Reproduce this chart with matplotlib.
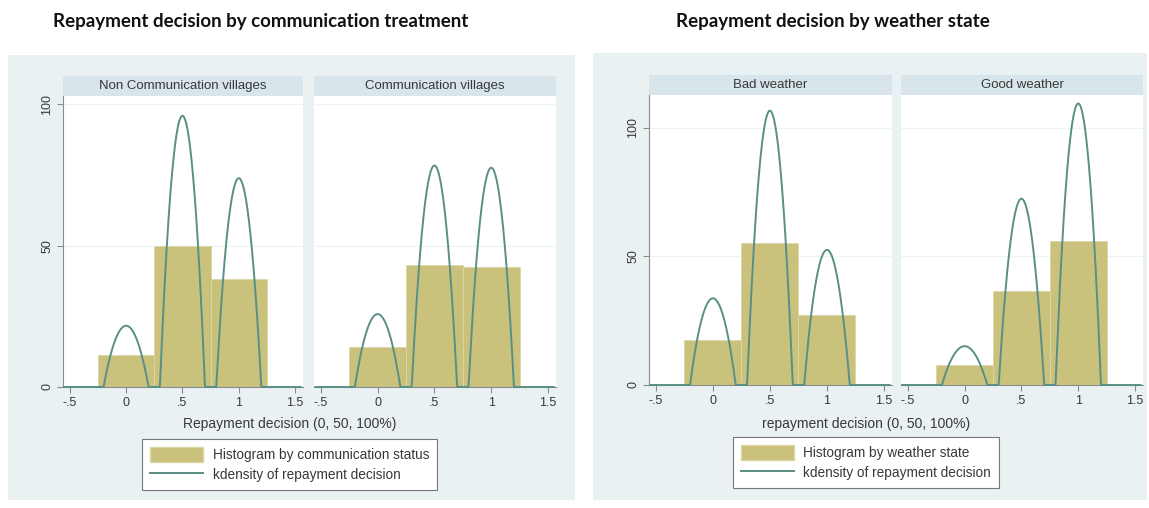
import numpy as np
import matplotlib.pyplot as plt
from matplotlib.patches import Rectangle, Patch
from matplotlib.lines import Line2D

# figure size in pixels
W, H = 1149, 508

# histogram bins (repayment share 0, 50, 100%)
bin_centers = [0.0, 0.5, 1.0]
bin_width = 0.5
kernel_halfwidth = 0.2   # Epanechnikov bandwidth used by kdensity

# left panel: communication treatment
comm_titles = ["Non Communication villages", "Communication villages"]
comm_hist = [[11.3, 50.0, 38.4], [14.2, 43.1, 42.6]]
comm_kde_peaks = [[21.7, 96.0, 73.9], [25.8, 78.4, 77.6]]

# right panel: weather state
weather_titles = ["Bad weather", "Good weather"]
weather_hist = [[17.5, 55.3, 27.2], [7.6, 36.7, 55.9]]
weather_kde_peaks = [[33.7, 106.6, 52.5], [15.1, 72.4, 109.4]]

xticks = [-0.5, 0, 0.5, 1, 1.5]
xtick_labels = ["-.5", "0", ".5", "1", "1.5"]
yticks = [0, 50, 100]

BAR = "#c9c17c"
BAR_EDGE = "#ddd7a6"
LINE = "#5a8f86"
OUTER_BG = "#eaf1f3"
STRIP_BG = "#d8e5eb"
AXIS = "#8c8c8c"
TXT = "#383838"
FONT = "Liberation Sans"


def px_axes(fig, x0, y0, x1, y1):
    # axes from pixel box (top-left origin)
    return fig.add_axes([x0 / W, 1 - y1 / H, (x1 - x0) / W, (y1 - y0) / H])


def px_rect(fig, x0, y0, x1, y1, color):
    fig.add_artist(Rectangle((x0 / W, 1 - y1 / H), (x1 - x0) / W, (y1 - y0) / H,
                             transform=fig.transFigure, facecolor=color,
                             edgecolor="none", zorder=0))


def kde_curve(peaks, xs):
    ys = np.zeros_like(xs)
    for c, p in zip(bin_centers, peaks):
        u = (xs - c) / kernel_halfwidth
        ys += np.where(np.abs(u) < 1, p * (1 - u ** 2), 0)
    return ys


def draw_sub(fig, box, strip_title, hist, peaks, ymax, first):
    x0, y0, x1, y1 = box
    px_rect(fig, x0, y0 - 20, x1, y0, STRIP_BG)
    fig.text((x0 + x1) / 2 / W, 1 - (y0 - 10) / H, strip_title, ha="center",
             va="center", fontsize=9.5, color=TXT, family=FONT)
    ax = px_axes(fig, x0, y0, x1, y1)
    ax.set_facecolor("white")
    ax.bar(bin_centers, hist, width=bin_width, color=BAR, edgecolor=BAR_EDGE,
           linewidth=0.6, zorder=2)
    xs = np.linspace(-0.55, 1.55, 600)
    ax.plot(xs, kde_curve(peaks, xs), color=LINE, lw=1.4, zorder=3,
            clip_on=False)
    ax.set_xlim(-0.56, 1.57)
    ax.set_ylim(0, ymax)
    for v in [50, 100]:
        ax.axhline(v, color="#edf4f4", lw=0.9, zorder=1)
    for s in ["top", "right"]:
        ax.spines[s].set_visible(False)
    ax.spines["bottom"].set_color(AXIS)
    ax.spines["left"].set_color(AXIS)
    ax.spines["left"].set_visible(first)
    ax.set_xticks(xticks)
    ax.set_xticklabels(xtick_labels, fontsize=9, color=TXT, family=FONT)
    ax.tick_params(axis="x", length=4, color=AXIS, pad=3)
    if first:
        ax.set_yticks(yticks)
        ax.set_yticklabels([str(v) for v in yticks], rotation=90, va="center",
                           fontsize=9, color=TXT, family=FONT)
        ax.tick_params(axis="y", length=4, color=AXIS, pad=3)
    else:
        ax.set_yticks([])
    return ax


def legend(fig, cx, cy, hist_label):
    handles = [Patch(facecolor=BAR, edgecolor=BAR_EDGE),
               Line2D([0], [0], color=LINE, lw=1.4)]
    labels = [hist_label, "kdensity of repayment decision"]
    lg = fig.legend(handles, labels, loc="center", bbox_to_anchor=(cx / W, 1 - cy / H),
                    prop={"family": FONT, "size": 9.8}, handlelength=3.9,
                    handleheight=1.4, borderpad=0.55, labelspacing=0.3,
                    handletextpad=0.7, fancybox=False, framealpha=1)
    lg.get_frame().set_edgecolor("#777777")
    lg.get_frame().set_linewidth(0.8)
    for t in lg.get_texts():
        t.set_color(TXT)


def main():
    fig = plt.figure(figsize=(W / 100, H / 100), dpi=100)
    fig.patch.set_facecolor("white")

    # outer panel backgrounds
    px_rect(fig, 8, 55, 575, 500, OUTER_BG)
    px_rect(fig, 593, 53, 1147, 500, OUTER_BG)

    fig.text(261 / W, 1 - 21 / H, "Repayment decision by communication treatment",
             ha="center", va="center", fontsize=13.5, fontweight="bold",
             family="Lato", color="#111111")
    fig.text(833 / W, 1 - 21 / H, "Repayment decision by weather state",
             ha="center", va="center", fontsize=13.5, fontweight="bold",
             family="Lato", color="#111111")

    left_boxes = [(63, 96, 303, 387), (314, 96, 556, 387)]
    for i in range(2):
        draw_sub(fig, left_boxes[i], comm_titles[i], comm_hist[i],
                 comm_kde_peaks[i], 103, i == 0)

    right_boxes = [(649, 95, 892, 385), (901, 95, 1143, 385)]
    for i in range(2):
        draw_sub(fig, right_boxes[i], weather_titles[i], weather_hist[i],
                 weather_kde_peaks[i], 112.7, i == 0)

    fig.text(290 / W, 1 - 424 / H, "Repayment decision (0, 50, 100%)",
             ha="center", va="center", fontsize=10, color=TXT, family=FONT)
    fig.text(866 / W, 1 - 424 / H, "repayment decision (0, 50, 100%)",
             ha="center", va="center", fontsize=10, color=TXT, family=FONT)

    legend(fig, 289.5, 464.5, "Histogram by communication status")
    legend(fig, 866, 462.5, "Histogram by weather state")

    fig.savefig("out.png", dpi=100, facecolor=fig.get_facecolor())


if __name__ == "__main__":
    main()
